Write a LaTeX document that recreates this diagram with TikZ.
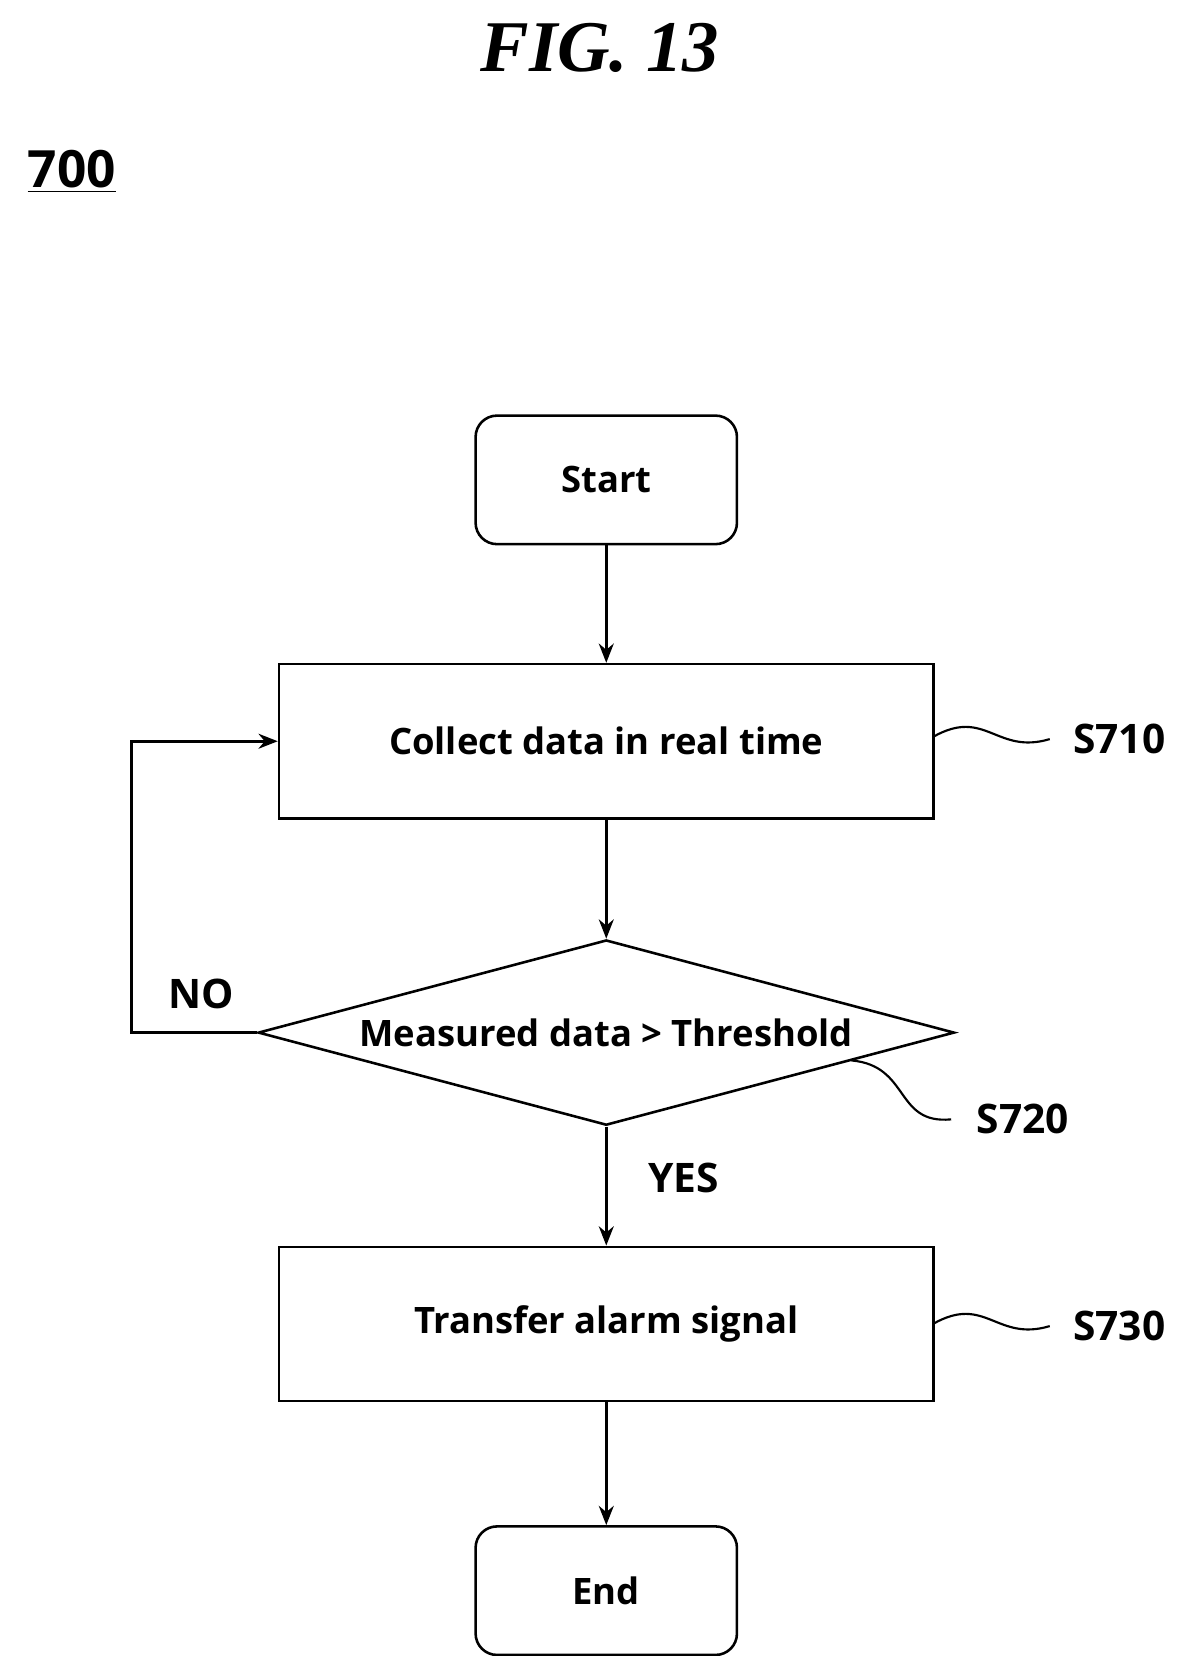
\documentclass[tikz,border=0pt]{standalone}
\usepackage{fontspec}
\setmainfont{Open Sans}
\newfontfamily\figfont{Liberation Serif}
\usetikzlibrary{shapes.geometric,arrows.meta}
\begin{document}
\begin{tikzpicture}[x=0.5pt,y=-0.5pt,line width=1.2pt,
  box/.style={draw,minimum width=305.5pt,minimum height=72pt,font=\fontsize{17}{20}\selectfont\bfseries},
  term/.style={draw,rounded corners=10pt,minimum width=122pt,minimum height=60pt,font=\fontsize{17}{20}\selectfont\bfseries},
  lab/.style={font=\fontsize{19}{22}\selectfont\bfseries},
  arr/.style={-{Stealth[length=9pt,width=7pt]}}]
\useasboundingbox (0,0) rectangle (1100,1546);
\node[font=\figfont\fontsize{34}{38}\selectfont\bfseries\itshape] (fig) at (560,45) {FIG. 13};
\node[font=\fontsize{24}{28}\selectfont\bfseries,anchor=west] (num) at (18,160) {\underline{700}};
\node[term] (start) at (566,448) {Start};
\node[box] (s710) at (566,692) {Collect data in real time};
\node[draw,diamond,aspect=3.76,minimum width=325pt,minimum height=86.5pt,inner sep=0pt] (s720) at (566,964) {};
\node[font=\fontsize{17}{20}\selectfont\bfseries] (s720t) at (566,964) {Measured data > Threshold};
\node[box] (s730) at (566,1236) {Transfer alarm signal};
\node[term] (end) at (566,1485) {End};
\draw[arr] (start) -- (s710);
\draw[arr] (s710) -- (s720);
\draw[arr] (s720) -- (s730);
\draw[arr] (s730) -- (end);
\draw[arr] (s720.west) -- (123,964) |- (s710.west);
\node[lab] (no) at (188,928) {NO};
\node[lab] (yes) at (638,1100) {YES};
\node[lab] (l710) at (1045,690) {S710};
\node[lab] (l720) at (955,1045) {S720};
\node[lab] (l730) at (1045,1238) {S730};
\draw[line width=1pt] (871,688) .. controls (920,660) and (930,705) .. (980,690);
\draw[line width=1pt] (871,1236) .. controls (920,1208) and (930,1253) .. (980,1238);
\draw[line width=1pt] (795,990) .. controls (850,995) and (835,1050) .. (888,1045);
\end{tikzpicture}
\end{document}
